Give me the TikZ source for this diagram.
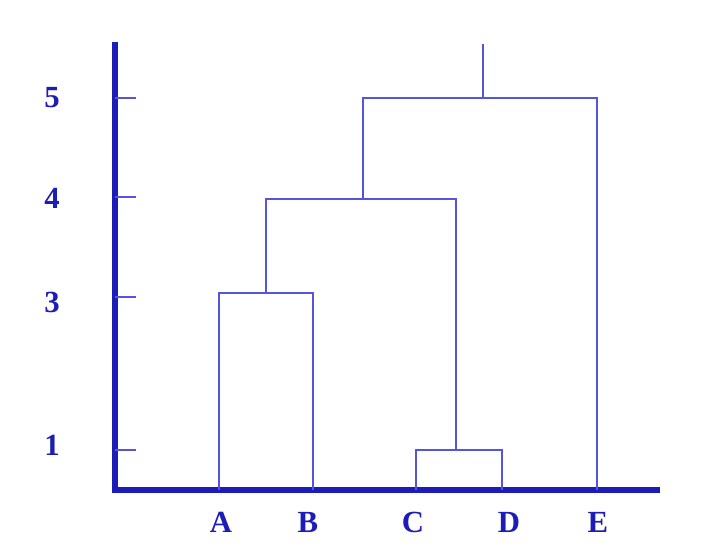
\documentclass[tikz,border=0pt]{standalone}
\usepackage{fontspec}
\setmainfont{Liberation Serif}
\usetikzlibrary{positioning}
\definecolor{axisblue}{RGB}{28,28,182}
\definecolor{treeblue}{RGB}{84,84,222}
\tikzset{
  axisline/.style={draw=axisblue, line width=3.4pt},
  link/.style={draw=treeblue, line width=0.9pt},
  leaflabel/.style={text=axisblue, font=\fontsize{17.5}{20}\selectfont\bfseries},
}

\begin{document}
\begin{tikzpicture}[x=0.02cm,y=-0.02cm]
        \useasboundingbox (0,0) rectangle (718,554);

        % axes
        \coordinate (top) at (115,42);
        \coordinate (origin) at (115,490);
        \coordinate (right) at (660,490);
        \draw[axisline] (top) -- (origin) -- (right);

        % levels
        \foreach \lv/\y/\ly in {5/98/98,4/197/198,3/297/302,1/450/445} {
            \coordinate (tick\lv) at (115,\y);
            \node[leaflabel] (lv\lv) at (52,\ly) {\lv};
            \draw[link] (tick\lv) -- ++(21,0);
        }

        % leaves
        \foreach \l/\x/\lx in {A/219/221,B/313/308,C/416/413,D/502/509,E/597/598} {
            \coordinate (\l) at (\x,490);
            \node[leaflabel] (lab\l) at (\lx,522) {\l};
        }

        % merges
        \coordinate (AB) at (266,293);
        \coordinate (CD) at (456,450);
        \coordinate (ABCD) at (363,199);
        \coordinate (root) at (483,98);
        \coordinate (rootTop) at (483,44);

        \draw[link] (A) |- (AB) -| (B);
        \draw[link] (C) |- (CD) -| (D);
        \draw[link] (AB) |- (ABCD) -| (CD);
        \draw[link] (ABCD) |- (root) -| (E);
        \draw[link] (root) -- (rootTop);
\end{tikzpicture}
\end{document}
